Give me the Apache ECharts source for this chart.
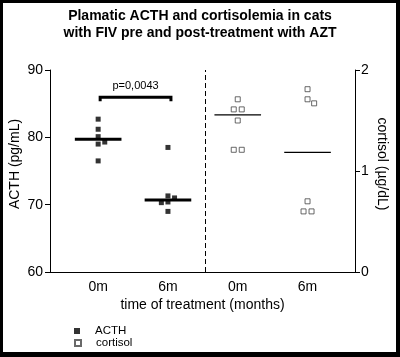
<!DOCTYPE html>
<html><head><meta charset="utf-8">
<script src="https://cdn.jsdelivr.net/npm/echarts@6/dist/echarts.min.js"></script>
<style>
html,body{margin:0;padding:0;background:#fff;}
#c{position:absolute;left:0;top:0;width:400px;height:357px;}
#frame{position:absolute;left:0;top:0;width:400px;height:357px;box-sizing:border-box;border-style:solid;border-color:#000;border-width:3px 4px 5px 3px;pointer-events:none;}
</style></head><body>
<div id="c"></div><div id="frame"></div>
<script>
const titleLines = ['Plamatic ACTH and cortisolemia in cats', 'with FIV pre and post-treatment with AZT'];
const categories = ['0m', '6m', '0m', '6m'];
const acth0m = [82.7, 81.2, 80.1, 79.3, 79.0, 76.5];
const acth6m = [78.5, 71.3, 71.0, 70.4, 70.3, 69.0];
const cortisol0m = [1.71, 1.61, 1.61, 1.50, 1.21, 1.21];
const cortisol6m = [1.81, 1.71, 1.67, 0.70, 0.60, 0.60];
const acthTicks = [60, 70, 80, 90];
const cortisolTicks = [0, 1, 2];
const seriesNames = ['ACTH', 'cortisol'];
const pLabel = 'p=0,0043';
const axisNames = { x: 'time of treatment (months)', left: 'ACTH (pg/mL)', right: 'cortisol (µg/dL)' };

function median(a) {
  const s = a.slice().sort((x, y) => x - y);
  const n = s.length;
  return n % 2 ? s[(n - 1) / 2] : (s[n / 2 - 1] + s[n / 2]) / 2;
}

const FONT = '"Liberation Sans", Arial, Helvetica, sans-serif';
const chart = echarts.init(document.getElementById('c'), null, { renderer: 'canvas' });
const HALF = 0.334;

function medianRender(width) {
  return function (params, api) {
    const x = api.value(0), y = api.value(1);
    const p1 = api.coord([x - HALF, y]), p2 = api.coord([x + HALF, y]);
    return { type: 'line', shape: { x1: p1[0], y1: p1[1], x2: p2[0], y2: p2[1] }, style: { stroke: '#000', lineWidth: width } };
  };
}

function legendFor(name, top) {
  return {
    data: [name], orient: 'vertical', left: 74, top: top, itemWidth: 6, itemHeight: 6, padding: 0,
    selectedMode: false,
    textStyle: { fontFamily: FONT, fontSize: 11.5, color: '#000', padding: [0, 0, 0, 10] }
  };
}

const baseOption = {
  animation: false,
  textStyle: { fontFamily: FONT },
  title: {
    text: titleLines.join('\n'), left: 'center', top: 3,
    textStyle: { fontFamily: FONT, fontSize: 14, fontWeight: 'bold', color: '#000', lineHeight: 17 }
  },
  legend: [legendFor(seriesNames[0], 325), legendFor(seriesNames[1], 337)],
  grid: { left: 50, right: 45, top: 70, bottom: 85, containLabel: false, outerBoundsMode: 'none' },
  xAxis: {
    type: 'value', min: 0.31, max: 4.68,
    axisLine: { show: true, lineStyle: { color: '#000', width: 1 } },
    axisTick: { show: false },
    splitLine: { show: false },
    axisLabel: { customValues: [1, 2, 3, 4], formatter: v => categories[Math.round(v) - 1] || '', color: '#000', fontSize: 14, margin: 8, fontFamily: FONT },
    name: axisNames.x, nameLocation: 'middle', nameGap: 26, nameMoveOverlap: false,
    nameTextStyle: { color: '#000', fontSize: 14, fontFamily: FONT }
  },
  yAxis: [{
    type: 'value', min: acthTicks[0], max: acthTicks[acthTicks.length - 1], interval: 10, position: 'left',
    axisLine: { show: true, lineStyle: { color: '#000', width: 1 } },
    axisTick: { show: true, length: 5, lineStyle: { color: '#000' } },
    splitLine: { show: false },
    axisLabel: { color: '#000', fontSize: 14, margin: 7, fontFamily: FONT },
    name: axisNames.left, nameLocation: 'middle', nameGap: 28, nameRotate: 90, nameMoveOverlap: false,
    nameTextStyle: { color: '#000', fontSize: 14, fontFamily: FONT, padding: [0, 0, 0, 14] }
  }, {
    type: 'value', min: cortisolTicks[0], max: cortisolTicks[cortisolTicks.length - 1], interval: 1, position: 'right',
    axisLine: { show: true, lineStyle: { color: '#000', width: 1 } },
    axisTick: { show: true, length: 5, lineStyle: { color: '#000' } },
    splitLine: { show: false },
    axisLabel: { color: '#000', fontSize: 14, margin: 6, fontFamily: FONT },
    name: axisNames.right, nameLocation: 'middle', nameGap: 20, nameRotate: -90, nameMoveOverlap: false,
    nameTextStyle: { color: '#000', fontSize: 14, fontFamily: FONT, padding: [0, 14, 0, 0] }
  }],
  series: [{
    name: seriesNames[0], type: 'scatter', yAxisIndex: 0, symbol: 'rect', symbolSize: 5,
    itemStyle: { color: '#000' }, z: 4,
    data: acth0m.map(v => [1, v]).concat(acth6m.map(v => [2, v])),
    markLine: {
      silent: true, symbol: ['none', 'none'], label: { show: false },
      lineStyle: { color: '#000', type: [5, 3], width: 1 },
      data: [{ xAxis: 2.54 }]
    }
  }, {
    name: seriesNames[1], type: 'scatter', yAxisIndex: 1, symbol: 'rect', symbolSize: 5,
    itemStyle: { color: '#fff', borderColor: '#444', borderWidth: 1 }, z: 4,
    data: cortisol0m.map(v => [3, v]).concat(cortisol6m.map(v => [4, v]))
  }, {
    type: 'custom', yAxisIndex: 0, silent: true, z: 3,
    data: [[1, median(acth0m)], [2, median(acth6m)]],
    renderItem: medianRender(3)
  }, {
    type: 'custom', yAxisIndex: 1, silent: true, z: 3,
    data: [[3, median(cortisol0m)], [4, median(cortisol6m)]],
    renderItem: medianRender(1.3)
  }, {
    type: 'custom', yAxisIndex: 0, silent: true, z: 5,
    data: [[1, 2, Math.max(...acth0m, ...acth6m)]],
    renderItem: function (params, api) {
      const top = api.coord([api.value(0), api.value(2)])[1] - 22;
      const x1 = api.coord([api.value(0), api.value(2)])[0] + 2;
      const x2 = api.coord([api.value(1), api.value(2)])[0] + 3;
      return {
        type: 'group', children: [{
          type: 'polyline', shape: { points: [[x1, top + 4], [x1, top], [x2, top], [x2, top + 4]] },
          style: { stroke: '#000', lineWidth: 3, fill: null }
        }, {
          type: 'text', style: { text: pLabel, x: (x1 + x2) / 2, y: top - 6, align: 'center', verticalAlign: 'bottom', fontSize: 11, fontFamily: FONT, fill: '#000' }
        }]
      };
    }
  }]
};

chart.setOption(baseOption);

// spread overlapping points horizontally (beeswarm-like) using the chart's own scales
function spread(values, xPos, seriesIndex) {
  const px = v => chart.convertToPixel({ seriesIndex: seriesIndex }, [xPos, v]);
  const pxPerX = chart.convertToPixel({ seriesIndex: seriesIndex }, [xPos + 1, values[0]])[0] - px(values[0])[0];
  const STEP = 6.6, DUP = 8, MIN = 5.8;
  const placed = [];
  const out = [];
  let i = 0;
  while (i < values.length) {
    let j = i;
    while (j + 1 < values.length && values[j + 1] === values[i]) j++;
    const n = j - i + 1;
    const py = px(values[i])[1];
    if (n > 1) {
      for (let k = 0; k < n; k++) {
        const dx = (k - (n - 1) / 2) * DUP;
        placed.push([dx, py]);
        out.push([xPos + dx / pxPerX, values[i]]);
      }
    } else {
      const cands = [0, 1, -1, 2, -2];
      let chosen = 0;
      for (const c of cands) {
        const dx = c * STEP;
        if (!placed.some(p => Math.abs(p[0] - dx) < MIN && Math.abs(p[1] - py) < MIN)) { chosen = dx; break; }
      }
      placed.push([chosen, py]);
      out.push([xPos + chosen / pxPerX, values[i]]);
    }
    i = j + 1;
  }
  return out;
}

chart.setOption({
  series: [
    { data: spread(acth0m, 1, 0).concat(spread(acth6m, 2, 0)) },
    { data: spread(cortisol0m, 3, 1).concat(spread(cortisol6m, 4, 1)) }
  ]
});
</script>
</body></html>
